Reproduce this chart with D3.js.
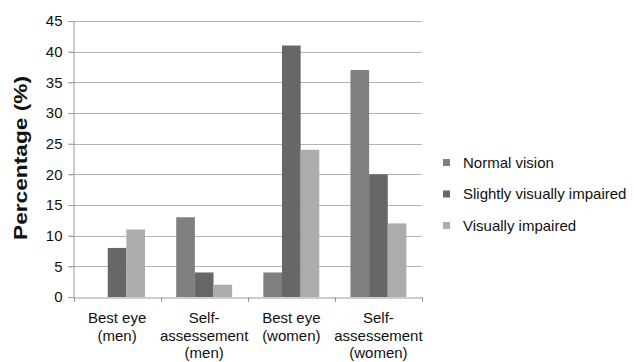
<!DOCTYPE html>
<html>
<head>
<meta charset="utf-8">
<script src="https://cdn.jsdelivr.net/npm/d3@7/dist/d3.min.js"></script>
<style>
  html, body { margin: 0; padding: 0; background: #fff; }
  svg { display: block; font-family: "Liberation Sans", Arial, sans-serif; }
</style>
</head>
<body>
<svg id="chart" width="634" height="362"></svg>
<script>
// Category labels (each entry is a list of text lines)
const categories = [
  ["Best eye", "(men)"],
  ["Self-", "assessement", "(men)"],
  ["Best eye", "(women)"],
  ["Self-", "assessement", "(women)"]
];
const seriesNames = ["Normal vision", "Slightly visually impaired", "Visually impaired"];
const normalVision = [0, 13, 4, 37];
const slightlyImpaired = [8, 4, 41, 20];
const visuallyImpaired = [11, 2, 24, 12];
const yTicks = [0, 5, 10, 15, 20, 25, 30, 35, 40, 45];
const seriesColors = ["#7f7f7f", "#676767", "#acacac"];

const series = [normalVision, slightlyImpaired, visuallyImpaired];
const svg = d3.select("#chart");
const margin = { left: 73.5, right: 422, top: 21, bottom: 297 };

const x = d3.scaleBand()
  .domain(d3.range(categories.length))
  .range([margin.left, margin.right])
  .paddingInner(0).paddingOuter(0);

const xInner = d3.scaleBand()
  .domain(d3.range(series.length))
  .range([0, x.bandwidth()])
  .paddingOuter(0.837)
  .paddingInner(0);

const y = d3.scaleLinear().domain([0, 45]).range([margin.bottom, margin.top]);

// Gridlines
svg.append("g")
  .selectAll("line")
  .data(yTicks.filter(d => d > 0))
  .join("line")
  .attr("x1", margin.left - 5).attr("x2", margin.right)
  .attr("y1", d => Math.round(y(d)) + 0.5).attr("y2", d => Math.round(y(d)) + 0.5)
  .attr("stroke", "#b3b3b3").attr("stroke-width", 1);

// Y axis
const yAxis = d3.axisLeft(y).tickValues(yTicks).tickSize(5).tickPadding(6);
const gy = svg.append("g")
  .attr("transform", `translate(${margin.left},0)`)
  .call(yAxis);
gy.select(".domain").attr("stroke", "#9a9a9a");
gy.selectAll(".tick line").attr("stroke", "#9a9a9a");
gy.selectAll(".tick text")
  .attr("font-size", 15).attr("fill", "#111")
  .attr("font-family", "Liberation Sans, Arial, sans-serif");

// Bars
const groups = svg.append("g")
  .selectAll("g")
  .data(series)
  .join("g")
  .attr("fill", (d, i) => seriesColors[i]);

groups.each(function (vals, si) {
  d3.select(this).selectAll("rect")
    .data(vals)
    .join("rect")
    .attr("x", (v, ci) => x(ci) + xInner(si))
    .attr("width", xInner.bandwidth())
    .attr("y", v => y(v))
    .attr("height", v => y(0) - y(v));
});

// X axis
const xAxis = d3.axisBottom(x).tickSize(0).tickFormat(() => "");
const gx = svg.append("g")
  .attr("transform", `translate(0,${margin.bottom + 0.5})`)
  .call(xAxis);
gx.select(".domain").attr("stroke", "#9a9a9a");

// Category boundary tick marks
svg.append("g")
  .selectAll("line")
  .data(d3.range(categories.length + 1))
  .join("line")
  .attr("x1", i => Math.round(margin.left + i * x.bandwidth()) + 0.5)
  .attr("x2", i => Math.round(margin.left + i * x.bandwidth()) + 0.5)
  .attr("y1", margin.bottom).attr("y2", margin.bottom + 5)
  .attr("stroke", "#9a9a9a");

// Category labels
const labels = svg.append("g")
  .attr("font-size", 15).attr("fill", "#111").attr("text-anchor", "middle");
categories.forEach((lines, ci) => {
  const t = labels.append("text")
    .attr("x", x(ci) + x.bandwidth() / 2)
    .attr("y", 323);
  lines.forEach((ln, li) => {
    t.append("tspan")
      .attr("x", x(ci) + x.bandwidth() / 2)
      .attr("dy", li === 0 ? 0 : 17.5)
      .text(ln);
  });
});

// Y axis title
svg.append("text")
  .attr("transform", `translate(27,158) rotate(-90)`)
  .attr("text-anchor", "middle")
  .attr("font-size", 18).attr("font-weight", "bold").attr("fill", "#111")
  .attr("textLength", 164).attr("lengthAdjust", "spacingAndGlyphs")
  .text("Percentage (%)");

// Legend
const legend = svg.append("g");
seriesNames.forEach((name, i) => {
  const ly = 162.5 + i * 31.5;
  legend.append("rect")
    .attr("x", 443).attr("y", ly - 3.5)
    .attr("width", 7).attr("height", 7)
    .attr("fill", seriesColors[i]);
  legend.append("text")
    .attr("x", 463).attr("y", ly + 5)
    .attr("font-size", 15).attr("fill", "#111")
    .text(name);
});
</script>
</body>
</html>
